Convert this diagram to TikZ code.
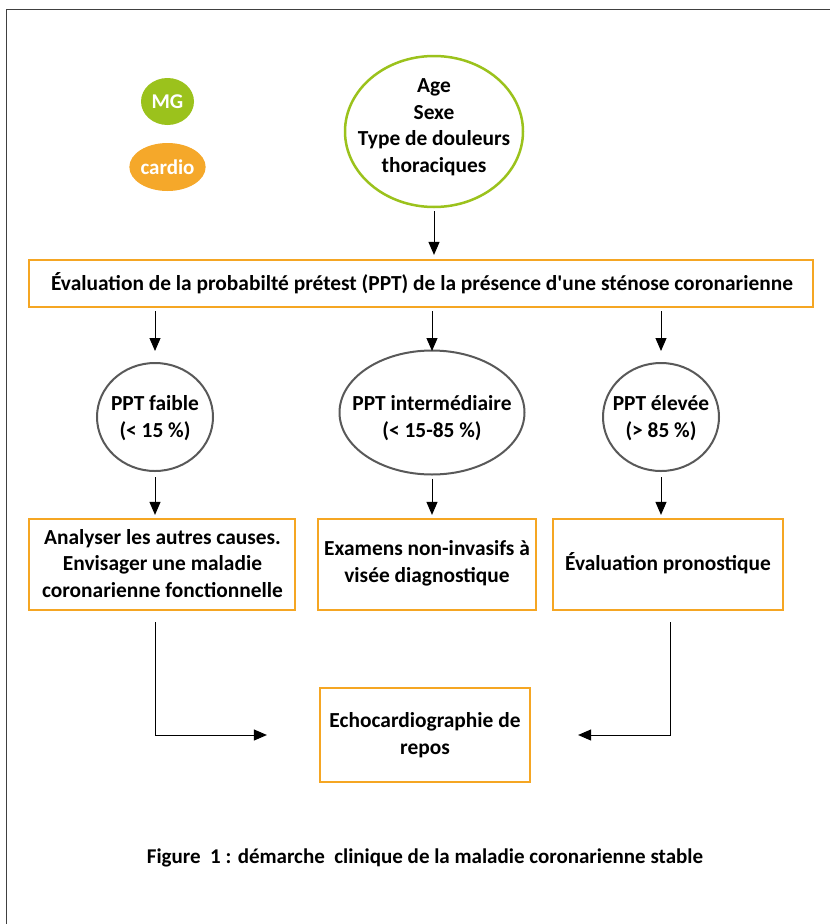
\documentclass[tikz,border=0pt]{standalone}
\usepackage{fontspec}
\setmainfont{Carlito}
\usetikzlibrary{arrows.meta,shapes.geometric}
\definecolor{mggreen}{HTML}{9BC21C}
\definecolor{cardorange}{HTML}{F5A82A}
\definecolor{boxorange}{HTML}{F5A623}
\definecolor{ellgray}{HTML}{595959}
\definecolor{framegray}{HTML}{404040}
\begin{document}
\begin{tikzpicture}[x=1pt,y=-1pt,
  txt/.style={font=\fontsize{21.4}{26.5}\selectfont\bfseries, align=center, inner sep=0pt},
  obox/.style={draw=boxorange, line width=2.2pt, rectangle, inner sep=0pt},
  gell/.style={draw=ellgray, line width=2pt, ellipse, inner sep=0pt},
  arr/.style={-{Triangle[length=13pt,width=11pt]}, line width=1pt, black}]
\useasboundingbox (0,0) rectangle (830,924);
\draw[framegray, line width=1.3pt] (6.5,924) -- (6.5,9.5) -- (830,9.5);

% legend
\node[ellipse, fill=mggreen, minimum width=53pt, minimum height=47pt, inner sep=0pt,
  text=white, font=\fontsize{21}{24}\selectfont\bfseries] (mg) at (167.5,101.5) {MG};
\node[ellipse, fill=cardorange, minimum width=73pt, minimum height=48pt, inner sep=0pt,
  text=white, font=\fontsize{21}{24}\selectfont\bfseries] (cardio) at (167.5,167) {cardio};

% input
\node[ellipse, draw=mggreen, line width=2.5pt, minimum width=178pt, minimum height=151pt] (in) at (434,131.5) {};
\node[txt] (intext) at (434,127) {Age\\Sexe\\Type de douleurs\\thoraciques};

% PPT box
\node[obox, minimum width=784pt, minimum height=47pt] (ppt) at (421,283.5) {};
\node[txt] (ppttext) at (422,283) {Évaluation de la probabilté prétest (PPT) de la présence d\textquotesingle une sténose coronarienne};

% probability ellipses
\node[gell, minimum width=116pt, minimum height=108pt] (f) at (155,417) {};
\node[txt] (ftext) at (155,418) {PPT faible\\(\textless\ 15 \%)};
\node[gell, minimum width=185pt, minimum height=124pt] (m) at (432,412.5) {};
\node[txt] (mtext) at (432,418) {PPT intermédiaire\\(\textless\ 15-85 \%)};
\node[gell, minimum width=116pt, minimum height=108pt] (e) at (661,417) {};
\node[txt] (etext) at (661,418) {PPT élevée\\(\textgreater\ 85 \%)};

% action boxes
\node[obox, minimum width=266pt, minimum height=91pt] (b1) at (162,564.5) {};
\node[txt] (b1t) at (162.5,563.5)
  {Analyser les autres causes.\\Envisager une maladie\\coronarienne fonctionnelle};
\node[obox, minimum width=218pt, minimum height=91pt] (b2) at (427,564.5) {};
\node[txt] (b2t) at (427,563.5)
  {Examens non-invasifs à\\visée diagnostique};
\node[obox, minimum width=230pt, minimum height=91pt] (b3) at (668,564.5) {};
\node[txt] (b3t) at (668,563.5)
  {Évaluation pronostique};

% echo
\node[obox, minimum width=210pt, minimum height=94pt] (echo) at (425,735) {};
\node[txt] (echot) at (425,735)
  {Echocardiographie de\\repos};

% caption
\node[txt, font=\fontsize{21}{24}\selectfont\bfseries] (cap) at (425,858)
  {Figure\ \ 1 : démarche\ \ clinique de la maladie coronarienne stable};

% connectors
\coordinate (fa) at (155,351);
\coordinate (ma) at (432,351);
\coordinate (ea) at (661,351);
\draw[arr, shorten <=3pt, shorten >=4pt] (in.south) -- (ppt.north -| in.south);
\draw[arr, shorten <=3pt] (ppt.south -| fa) -- (fa);
\draw[arr, shorten <=3pt] (ppt.south -| ma) -- (ma);
\draw[arr, shorten <=3pt] (ppt.south -| ea) -- (ea);
\draw[arr, shorten <=5pt, shorten >=3pt] (f.south) -- (b1.north -| f.south);
\draw[arr, shorten <=3pt, shorten >=3pt] (m.south) -- (b2.north -| m.south);
\draw[arr, shorten <=5pt, shorten >=3pt] (e.south) -- (b3.north -| e.south);
\coordinate (l0) at (155,622);
\coordinate (r0) at (670,622);
\draw[arr, shorten >=52pt] (l0) |- (echo.west);
\draw[arr, shorten >=47pt] (r0) |- (echo.east);
\end{tikzpicture}
\end{document}
